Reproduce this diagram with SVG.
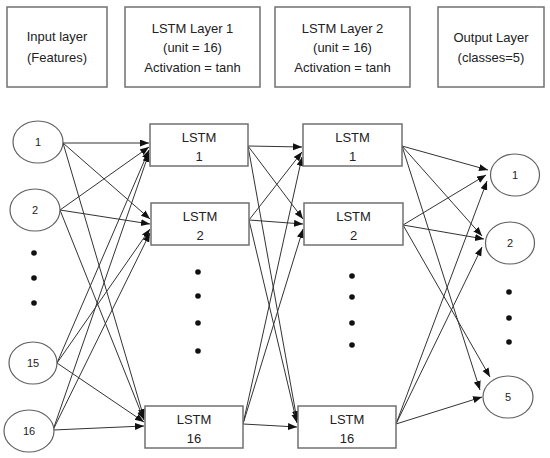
<svg xmlns="http://www.w3.org/2000/svg" width="550" height="458" viewBox="0 0 550 458">
<style>
.box{fill:#fff;stroke:#707070;stroke-width:1.5}
.node{fill:#fff;stroke:#606060;stroke-width:1.2}
.t{font-family:"Liberation Sans",Arial,sans-serif;font-size:13px;fill:#222;text-anchor:middle}
.n{font-family:"Liberation Sans",Arial,sans-serif;font-size:11px;fill:#222;text-anchor:middle}
.c line{stroke:#333;stroke-width:1;marker-end:url(#a)}
.dot{fill:#111}
</style>
<defs>
<marker id="a" markerUnits="userSpaceOnUse" markerWidth="10" markerHeight="8" refX="9" refY="3.5" orient="auto">
<path d="M0,0 L9,3.5 L0,7 z" fill="#111"/>
</marker>
</defs>
<rect width="550" height="458" fill="#fff"/>
<g id="hdr-input"><rect class="box" x="7" y="7" width="100" height="80"/><text class="t" x="57" y="41">Input layer</text><text class="t" x="57" y="62">(Features)</text></g>
<g id="hdr-lstm1"><rect class="box" x="125" y="7" width="135" height="80"/><text class="t" x="192.5" y="33">LSTM Layer 1</text><text class="t" x="192.5" y="52">(unit = 16)</text><text class="t" x="192.5" y="72">Activation = tanh</text></g>
<g id="hdr-lstm2"><rect class="box" x="275" y="7" width="135" height="80"/><text class="t" x="342.5" y="33">LSTM Layer 2</text><text class="t" x="342.5" y="52">(unit = 16)</text><text class="t" x="342.5" y="72">Activation = tanh</text></g>
<g id="hdr-output"><rect class="box" x="438" y="7" width="106" height="80"/><text class="t" x="491" y="42">Output Layer</text><text class="t" x="491" y="62">(classes=5)</text></g>
<g class="c" id="connectors">
<line x1="63" y1="143" x2="149" y2="143"/>
<line x1="60" y1="210" x2="149" y2="147"/>
<line x1="57" y1="363" x2="149" y2="150"/>
<line x1="53" y1="430" x2="149" y2="153"/>
<line x1="63" y1="143" x2="150" y2="219"/>
<line x1="60" y1="210" x2="150" y2="224"/>
<line x1="57" y1="363" x2="150" y2="229"/>
<line x1="53" y1="430" x2="150" y2="233"/>
<line x1="63" y1="143" x2="144" y2="418"/>
<line x1="60" y1="210" x2="144" y2="420"/>
<line x1="57" y1="363" x2="144" y2="422"/>
<line x1="53" y1="430" x2="144" y2="426"/>
<line x1="248" y1="146" x2="302" y2="147"/>
<line x1="249" y1="220" x2="302" y2="152"/>
<line x1="243" y1="424" x2="302" y2="157"/>
<line x1="248" y1="146" x2="303" y2="219"/>
<line x1="249" y1="220" x2="303" y2="224"/>
<line x1="243" y1="424" x2="303" y2="229"/>
<line x1="248" y1="146" x2="297" y2="420"/>
<line x1="249" y1="220" x2="297" y2="423"/>
<line x1="243" y1="424" x2="297" y2="427"/>
<line x1="402" y1="146" x2="488" y2="170"/>
<line x1="403" y1="225" x2="486" y2="175"/>
<line x1="396" y1="424" x2="487" y2="181"/>
<line x1="402" y1="146" x2="482" y2="236"/>
<line x1="403" y1="225" x2="484" y2="239"/>
<line x1="396" y1="424" x2="482" y2="247"/>
<line x1="402" y1="146" x2="480" y2="390"/>
<line x1="403" y1="225" x2="490" y2="377"/>
<line x1="396" y1="424" x2="482" y2="397"/>
</g>
<g id="in1"><ellipse class="node" cx="38" cy="142" rx="25" ry="21"/><text class="n" x="38" y="146">1</text></g>
<g id="in2"><ellipse class="node" cx="35" cy="210" rx="25" ry="21"/><text class="n" x="35" y="214">2</text></g>
<g id="in-dots"><circle class="dot" cx="34" cy="253" r="2.8"/><circle class="dot" cx="34" cy="278" r="2.8"/><circle class="dot" cx="34" cy="303" r="2.8"/></g>
<g id="in15"><ellipse class="node" cx="33" cy="363" rx="24" ry="21"/><text class="n" x="33" y="367">15</text></g>
<g id="in16"><ellipse class="node" cx="29" cy="431" rx="25" ry="21"/><text class="n" x="29" y="435">16</text></g>
<g id="l1-1"><rect class="box" x="150" y="124" width="98" height="42"/><text class="t" x="199" y="142">LSTM</text><text class="t" x="199" y="161">1</text></g>
<g id="l1-2"><rect class="box" x="151" y="203" width="98" height="42"/><text class="t" x="200" y="221">LSTM</text><text class="t" x="200" y="240">2</text></g>
<g id="l1-dots"><circle class="dot" cx="198" cy="272" r="2.8"/><circle class="dot" cx="198" cy="296" r="2.8"/><circle class="dot" cx="198" cy="323" r="2.8"/><circle class="dot" cx="198" cy="351" r="2.8"/></g>
<g id="l1-16"><rect class="box" x="145" y="406" width="98" height="42"/><text class="t" x="194" y="424">LSTM</text><text class="t" x="194" y="443">16</text></g>
<g id="l2-1"><rect class="box" x="303" y="124" width="99" height="42"/><text class="t" x="352.5" y="142">LSTM</text><text class="t" x="352.5" y="161">1</text></g>
<g id="l2-2"><rect class="box" x="304" y="203" width="99" height="42"/><text class="t" x="353.5" y="221">LSTM</text><text class="t" x="353.5" y="240">2</text></g>
<g id="l2-dots"><circle class="dot" cx="352" cy="276" r="2.8"/><circle class="dot" cx="352" cy="297" r="2.8"/><circle class="dot" cx="352" cy="323" r="2.8"/><circle class="dot" cx="352" cy="345" r="2.8"/></g>
<g id="l2-16"><rect class="box" x="298" y="406" width="98" height="42"/><text class="t" x="347" y="424">LSTM</text><text class="t" x="347" y="443">16</text></g>
<g id="out1"><ellipse class="node" cx="515" cy="175" rx="24.5" ry="21"/><text class="n" x="515" y="179">1</text></g>
<g id="out2"><ellipse class="node" cx="510" cy="243" rx="24.5" ry="21"/><text class="n" x="510" y="247">2</text></g>
<g id="out-dots"><circle class="dot" cx="509" cy="292" r="2.8"/><circle class="dot" cx="509" cy="318" r="2.8"/><circle class="dot" cx="509" cy="342" r="2.8"/></g>
<g id="out5"><ellipse class="node" cx="508" cy="397" rx="25" ry="21"/><text class="n" x="508" y="401">5</text></g>
</svg>
